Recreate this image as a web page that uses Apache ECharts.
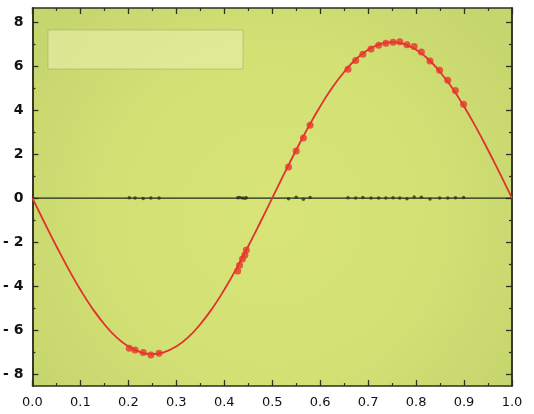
<!DOCTYPE html>
<html>
<head>
<meta charset="utf-8">
<script src="https://cdn.jsdelivr.net/npm/echarts@6/dist/echarts.min.js"></script>
<style>
html,body{margin:0;padding:0;background:#fff;}
#c{width:534px;height:414px;}
</style>
</head>
<body>
<div id="c"></div>
<script>
// Fitted curve
const curveX = [0,0.025,0.05,0.075,0.1,0.125,0.15,0.175,0.2,0.225,0.25,0.275,0.3,0.325,0.35,0.375,0.4,0.425,0.45,0.475,0.5,0.525,0.55,0.575,0.6,0.625,0.65,0.675,0.7,0.725,0.75,0.775,0.8,0.825,0.85,0.875,0.9,0.925,0.95,0.975,1.0];
const curveY = [0,-1.11,-2.19,-3.22,-4.17,-5.02,-5.74,-6.33,-6.75,-7.01,-7.10,-7.01,-6.75,-6.33,-5.74,-5.02,-4.17,-3.22,-2.19,-1.11,0,1.11,2.19,3.22,4.17,5.02,5.74,6.33,6.75,7.01,7.10,7.01,6.75,6.33,5.74,5.02,4.17,3.22,2.19,1.11,0];
// Measured points (red)
const ptX = [0.202,0.214,0.231,0.247,0.264,0.428,0.432,0.438,0.443,0.446,0.534,0.550,0.565,0.579,0.658,0.674,0.689,0.706,0.722,0.737,0.752,0.766,0.781,0.796,0.811,0.829,0.849,0.866,0.882,0.899];
const ptY = [-6.83,-6.91,-7.03,-7.14,-7.06,-3.32,-3.05,-2.77,-2.59,-2.36,1.42,2.14,2.74,3.32,5.86,6.26,6.55,6.79,6.95,7.05,7.09,7.11,6.98,6.90,6.65,6.24,5.82,5.36,4.90,4.27];
// Residuals (black)
const resY = [0.02,0.0,-0.02,0.01,0.0,0.02,0.03,0.0,-0.01,0.02,-0.03,0.04,-0.05,0.03,0.02,0.0,0.03,0.0,0.0,0.01,0.02,0.0,-0.03,0.05,0.04,-0.04,0.0,0.0,0.02,0.03];
const zeroX = [0,1];
const zeroY = [0,0];
const yMajor = [-8,-6,-4,-2,0,2,4,6,8];
const yMinor = [-7,-5,-3,-1,1,3,5,7];

const curve = curveX.map((x,i)=>[x,curveY[i]]);
const pts = ptX.map((x,i)=>[x,ptY[i]]);
const res = ptX.map((x,i)=>[x,resY[i]]);
const zero = zeroX.map((x,i)=>[x,zeroY[i]]);

const FONT = 'DejaVu Sans';
const AX = '#2e2e22';
const YMIN = -8.55, YMAX = 8.65;

function yAx(pos, vals, len, labels){
  return {
    type:'value', position:pos, min:YMIN, max:YMAX,
    splitLine:{show:false},
    axisLine:{show:true, onZero:false, lineStyle:{color:AX,width:1.5}},
    axisTick:{show:true, inside:true, length:len, customValues:vals, lineStyle:{color:AX,width:1.3}},
    axisLabel:{show:labels, customValues:vals, margin:9, color:'#111', fontFamily:FONT, fontSize:14, fontWeight:'bold',
      formatter:v=> v<0 ? '- '+Math.abs(v) : String(v)}
  };
}
function xAx(pos, labels){
  return {
    type:'value', position:pos, min:0, max:1, interval:0.1,
    splitLine:{show:false},
    axisLine:{show:true, onZero:false, lineStyle:{color:AX,width:1.5}},
    axisTick:{show:true, inside:true, length:6, lineStyle:{color:AX,width:1.3}},
    minorTick:{show:true, splitNumber:2, length:3, lineStyle:{color:AX,width:1.2}},
    axisLabel:{show:labels, margin:10, color:'#111', fontFamily:FONT, fontSize:13,
      formatter:v=>v.toFixed(1)}
  };
}

const chart = echarts.init(document.getElementById('c'), null, {renderer:'canvas'});
chart.setOption({
  animation:false,
  backgroundColor:'#ffffff',
  grid:{left:27, right:22, top:8, bottom:28, show:true, borderWidth:0,
    backgroundColor:new echarts.graphic.RadialGradient(0.5,0.55,0.75,[
      {offset:0,color:'#d8e478'},{offset:0.6,color:'#d2e074'},{offset:1,color:'#c6d66e'}])},
  xAxis:[xAx('bottom',true), xAx('top',false)],
  yAxis:[yAx('left',yMajor,6,true), yAx('left',yMinor,3,false), yAx('right',yMajor,6,false), yAx('right',yMinor,3,false)],
  graphic:[{type:'rect', shape:{x:48,y:30,width:195,height:39}, z:1,
    style:{fill:'rgba(234,240,172,0.6)', stroke:'rgba(120,140,80,0.35)', lineWidth:1}}],
  series:[
    {type:'line', data:zero, symbol:'none', lineStyle:{color:'#1d2a12', width:1.3}, z:2},
    {type:'scatter', data:res, symbol:'circle', symbolSize:3.5, itemStyle:{color:'#2a3320'}, z:3},
    {type:'line', data:curve, smooth:true, symbol:'none', lineStyle:{color:'#e0322c', width:1.8}, z:4},
    {type:'scatter', data:pts, symbol:'circle', symbolSize:7, itemStyle:{color:'#e8342e'}, z:5}
  ]
});
</script>
</body>
</html>
